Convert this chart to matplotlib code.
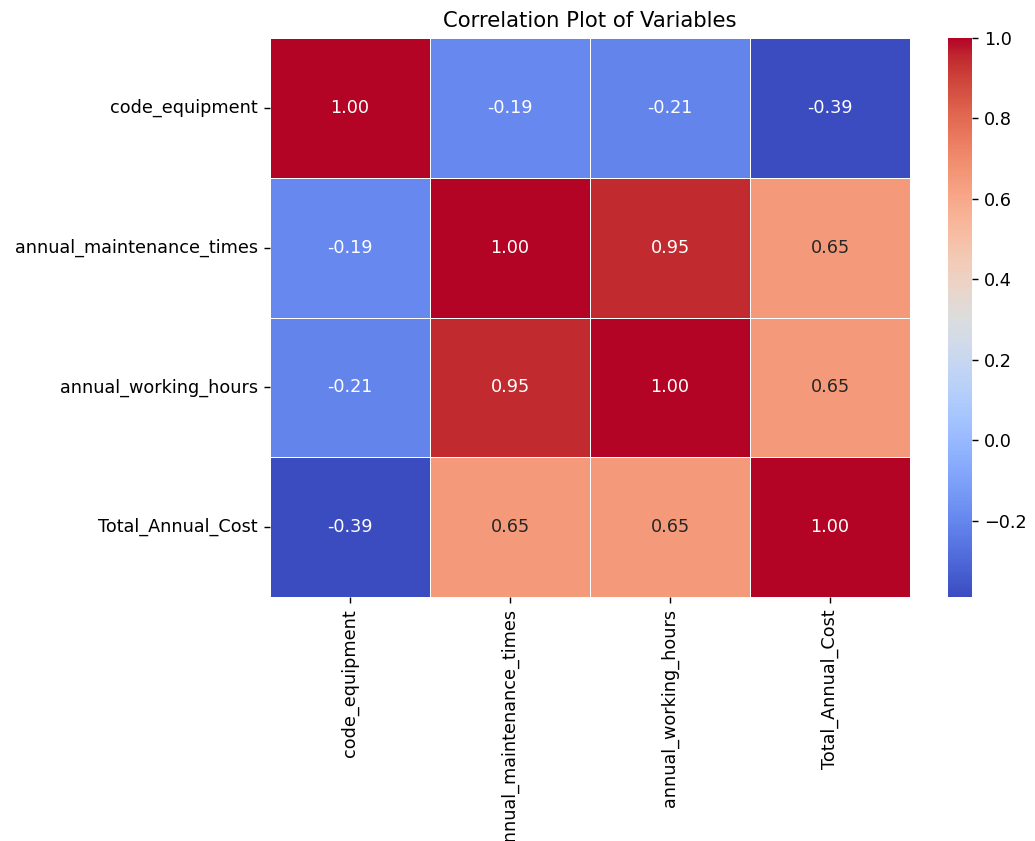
import numpy as np
import pandas as pd
import matplotlib
matplotlib.use("Agg")
import matplotlib.pyplot as plt
import seaborn as sns

variables = ["code_equipment", "annual_maintenance_times",
             "annual_working_hours", "Total_Annual_Cost"]

corr_values = [
    [1.00, -0.19, -0.21, -0.39],
    [-0.19, 1.00, 0.95, 0.65],
    [-0.21, 0.95, 1.00, 0.65],
    [-0.39, 0.65, 0.65, 1.00],
]

corr = pd.DataFrame(corr_values, index=variables, columns=variables)

dpi = 127
fig = plt.figure(figsize=(1035 / dpi, 841 / dpi), dpi=dpi)
ax = fig.add_axes([270 / 1035, 1 - 597 / 841, 640 / 1035, 559 / 841])
cax = fig.add_axes([948 / 1035, 1 - 597 / 841, 24 / 1035, 559 / 841])

sns.heatmap(corr, annot=True, fmt=".2f", cmap="coolwarm", linewidths=0.5,
            ax=ax, cbar_ax=cax)
ax.set_title("Correlation Plot of Variables")

fig.savefig("out.png", dpi=dpi)
